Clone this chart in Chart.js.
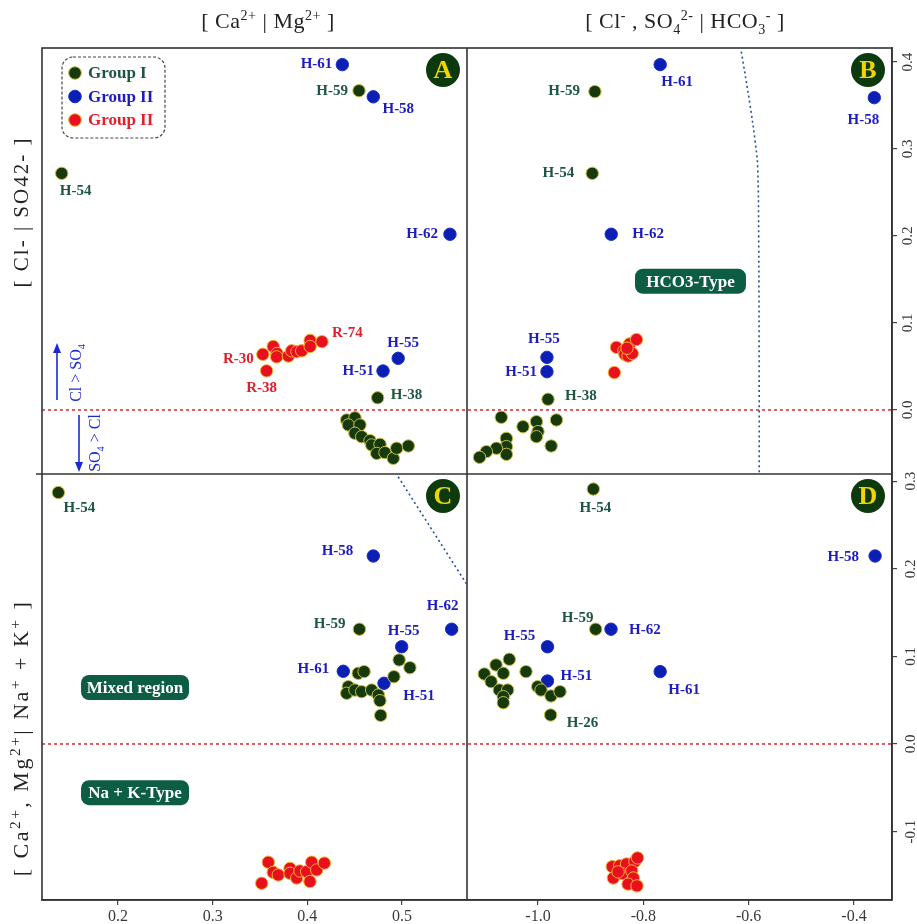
<!DOCTYPE html>
<html>
<head>
<meta charset="utf-8">
<script src="https://cdn.jsdelivr.net/npm/chart.js@4.4.1/dist/chart.umd.min.js"></script>
<style>
  html, body { margin: 0; padding: 0; background: #fff; }
  canvas { display: block; }
</style>
</head>
<body>
<canvas id="chart" width="917" height="924"></canvas>
<script>
// ---- tick labels ----
const caMgTicks = [0.2, 0.3, 0.4, 0.5];
const anionTicks = [-1.0, -0.8, -0.6, -0.4];
const clSo4Ticks = [0.0, 0.1, 0.2, 0.3, 0.4];
const cationTicks = [-0.1, 0.0, 0.1, 0.2, 0.3];

const groupNames = ['Group I', 'Group II', 'Group II'];

// ---- Panel A : [Ca | Mg] vs [Cl | SO4] ----
const groupI_A = [
  [0.1405, 0.272, 'H-54'], [0.4546, 0.367, 'H-59'], [0.4743, 0.014, 'H-38'],
  [0.4416, -0.0115], [0.4503, -0.0090], [0.4433, -0.0172], [0.4556, -0.0172],
  [0.4503, -0.0268], [0.4574, -0.0307], [0.4662, -0.0353], [0.4680, -0.0402],
  [0.4768, -0.0395], [0.4733, -0.0500], [0.4820, -0.0490], [0.4908, -0.0556],
  [0.4944, -0.0440], [0.5067, -0.0414]
];
const groupII_A = [
  [0.437, 0.397, 'H-61'], [0.4697, 0.360, 'H-58'], [0.5507, 0.202, 'H-62'],
  [0.496, 0.0594, 'H-55'], [0.480, 0.0448, 'H-51']
];
const groupIII_A = [
  [0.353, 0.064, 'R-30'], [0.364, 0.073], [0.368, 0.065], [0.3676, 0.061],
  [0.380, 0.062], [0.3835, 0.068], [0.389, 0.067], [0.394, 0.068],
  [0.403, 0.080], [0.403, 0.073], [0.4155, 0.0785, 'R-74'], [0.357, 0.045, 'R-38']
];

// ---- Panel B : [Cl, SO4 | HCO3] vs [Cl | SO4] ----
const groupI_B = [
  [-0.897, 0.272, 'H-54'], [-0.892, 0.366, 'H-59'], [-0.981, 0.0123, 'H-38'],
  [-1.0697, -0.0084], [-1.0285, -0.0192], [-1.003, -0.0134], [-0.965, -0.0115],
  [-1.000, -0.0249], [-1.003, -0.0307], [-0.975, -0.0414], [-1.060, -0.0326],
  [-1.060, -0.0421], [-1.060, -0.0510], [-1.079, -0.0440], [-1.098, -0.0479],
  [-1.111, -0.0544]
];
const groupII_B = [
  [-0.768, 0.397, 'H-61'], [-0.3615, 0.359, 'H-58'], [-0.861, 0.202, 'H-62'],
  [-0.983, 0.0605, 'H-55'], [-0.983, 0.044, 'H-51']
];
const groupIII_B = [
  [-0.851, 0.072], [-0.837, 0.068], [-0.835, 0.064], [-0.826, 0.076], [-0.813, 0.081],
  [-0.829, 0.062], [-0.821, 0.065], [-0.831, 0.071], [-0.855, 0.043]
];

// ---- Panel C : [Ca | Mg] vs [Ca, Mg | Na + K] ----
const groupI_C = [
  [0.137, 0.287, 'H-54'], [0.455, 0.131, 'H-59'],
  [0.497, 0.0959], [0.5084, 0.0871], [0.4915, 0.0768], [0.4538, 0.0807],
  [0.4600, 0.0826], [0.4433, 0.0654], [0.4416, 0.0579], [0.4503, 0.0616],
  [0.4574, 0.0597], [0.4680, 0.0616], [0.4750, 0.0559], [0.4767, 0.0494],
  [0.4775, 0.0327]
];
const groupII_C = [
  [0.4697, 0.2146, 'H-58'], [0.5525, 0.131, 'H-62'], [0.4997, 0.111, 'H-55'],
  [0.438, 0.083, 'H-61'], [0.481, 0.0693, 'H-51']
];
const groupIII_C = [
  [0.3518, -0.159], [0.3588, -0.135], [0.364, -0.1465], [0.3693, -0.1495],
  [0.3817, -0.142], [0.3817, -0.1476], [0.3888, -0.153], [0.3922, -0.145],
  [0.3993, -0.1457], [0.4028, -0.157], [0.4046, -0.135], [0.4099, -0.1438],
  [0.418, -0.136]
];

// ---- Panel D : [Cl, SO4 | HCO3] vs [Ca, Mg | Na + K] ----
const groupI_D = [
  [-0.895, 0.291, 'H-54'], [-0.8905, 0.131, 'H-59'], [-0.976, 0.0331, 'H-26'],
  [-1.0545, 0.0967], [-1.0797, 0.0902], [-1.0659, 0.0807], [-1.102, 0.0799],
  [-1.089, 0.0711], [-1.0735, 0.0616], [-1.0576, 0.0616], [-1.0659, 0.054],
  [-1.0659, 0.0471], [-1.0228, 0.0826], [-1.0006, 0.0654], [-0.9943, 0.0616],
  [-0.9753, 0.0548], [-0.9582, 0.0597]
];
const groupII_D = [
  [-0.360, 0.2146, 'H-58'], [-0.8614, 0.131, 'H-62'], [-0.982, 0.111, 'H-55'],
  [-0.768, 0.0826, 'H-61'], [-0.982, 0.0719, 'H-51']
];
const groupIII_D = [
  [-0.859, -0.140], [-0.845, -0.139], [-0.832, -0.137], [-0.816, -0.134],
  [-0.811, -0.130], [-0.857, -0.153], [-0.840, -0.148], [-0.822, -0.145],
  [-0.819, -0.153], [-0.829, -0.160], [-0.812, -0.162], [-0.848, -0.146]
];

// ---- boundary lines ----
const hco3Boundary = [
  [-0.614, 0.412], [-0.597, 0.349], [-0.588, 0.310], [-0.583, 0.280],
  [-0.581, 0.200], [-0.580, 0.000], [-0.580, -0.073]
];
const mixedBoundary = [[0.496, 0.305], [0.568, 0.183]];

// ---- styling ----
const SERIF = '"Liberation Serif", "DejaVu Serif", serif';
const groupStyle = [
  { fill: '#163a0b', edge: '#c4bd45', text: '#1e5640' },
  { fill: '#0b1fb4', edge: '#1b2fc4', text: '#1c1cc0' },
  { fill: '#e8101e', edge: '#f2b233', text: '#e2202c' }
];
// where each sample name sits next to its marker: [align, dx, dy]
const labelPlacement = {
  A: { 'H-61': ['right', -10, 0], 'H-59': ['right', -11, 0], 'H-58': ['center', 25, 12],
       'H-54': ['center', 14, 18], 'H-62': ['right', -12, 0], 'R-74': ['left', 10, -9],
       'H-55': ['center', 5, -15], 'H-51': ['right', -9, 0], 'R-30': ['right', -9, 5],
       'R-38': ['center', -5, 17], 'H-38': ['left', 13, -3] },
  B: { 'H-61': ['center', 17, 18], 'H-59': ['right', -15, 0], 'H-58': ['center', -11, 22],
       'H-54': ['right', -18, 0], 'H-62': ['left', 21, 0], 'H-55': ['center', -3, -18],
       'H-51': ['right', -10, 0], 'H-38': ['left', 17, -3] },
  C: { 'H-54': ['center', 21, 16], 'H-58': ['right', -20, -5], 'H-62': ['center', -9, -23],
       'H-59': ['right', -14, -5], 'H-55': ['center', 2, -16], 'H-61': ['right', -14, -2],
       'H-51': ['center', 35, 13] },
  D: { 'H-54': ['center', 2, 19], 'H-58': ['right', -16, 1], 'H-59': ['center', -18, -11],
       'H-62': ['left', 18, 1], 'H-55': ['center', -28, -11], 'H-61': ['center', 24, 18],
       'H-51': ['left', 13, -5], 'H-26': ['left', 16, 8] }
};

const toPts = arr => arr.map(([x, y, name]) => ({ x, y, name }));

const panels = [
  { key: 'A', xId: 'xCaMg', yId: 'yClSo4', groups: [groupI_A, groupII_A, groupIII_A] },
  { key: 'B', xId: 'xAnion', yId: 'yClSo4', groups: [groupI_B, groupII_B, groupIII_B] },
  { key: 'C', xId: 'xCaMg', yId: 'yCation', groups: [groupI_C, groupII_C, groupIII_C] },
  { key: 'D', xId: 'xAnion', yId: 'yCation', groups: [groupI_D, groupII_D, groupIII_D] }
];

const datasets = [];
panels.forEach(p => p.groups.forEach((g, gi) => datasets.push({
  type: 'scatter', label: groupNames[gi], panel: p.key, group: gi, data: toPts(g),
  xAxisID: p.xId, yAxisID: p.yId,
  backgroundColor: groupStyle[gi].fill, borderColor: groupStyle[gi].edge,
  borderWidth: 1, pointRadius: 6.2, pointHoverRadius: 6.2
})));
const boundaryStyle = { borderColor: '#23519c', borderWidth: 1.6, borderDash: [2, 3], pointRadius: 0, fill: false };
datasets.push(Object.assign({ type: 'line', label: 'HCO3 boundary', data: toPts(hco3Boundary),
  xAxisID: 'xAnion', yAxisID: 'yClSo4', tension: 0.35 }, boundaryStyle));
datasets.push(Object.assign({ type: 'line', label: 'mixed boundary', data: toPts(mixedBoundary),
  xAxisID: 'xCaMg', yAxisID: 'yCation', tension: 0 }, boundaryStyle));

// ---- axes: two x scales stacked side by side, two y scales stacked on the right ----
const fmt = v => Number(v).toFixed(1);
function xAxis(min, max, ticks) {
  return {
    type: 'linear', position: 'bottom', stack: 'bottomAxes', stackWeight: 1, min, max,
    afterBuildTicks: s => { s.ticks = ticks.map(value => ({ value })); },
    afterFit: s => { s.height = 24; },
    ticks: { callback: fmt, font: { family: SERIF, size: 16 }, color: '#3a3a3a', padding: 2,
             autoSkip: false, minRotation: 0, maxRotation: 0 },
    grid: { drawOnChartArea: false, drawTicks: true, tickLength: 5, color: '#444', lineWidth: 1.2 },
    border: { display: true, color: '#333', width: 1.6 }
  };
}
function yAxis(min, max, ticks) {
  return {
    type: 'linear', position: 'right', stack: 'rightAxes', stackWeight: 1, min, max,
    afterBuildTicks: s => { s.ticks = ticks.map(value => ({ value })); },
    afterFit: s => { s.width = 25; },
    ticks: { callback: fmt, font: { family: SERIF, size: 15 }, color: '#3a3a3a', padding: 2,
             autoSkip: false, minRotation: 90, maxRotation: 90, crossAlign: 'center' },
    grid: { drawOnChartArea: false, drawTicks: true, tickLength: 5, color: '#444', lineWidth: 1.2 },
    border: { display: true, color: '#333', width: 1.6 }
  };
}

// ---- rich text (super/subscripts) ----
function drawRich(ctx, parts, x, y, size, opts) {
  const o = Object.assign({ rotate: 0, weight: 'normal', color: '#222', small: 0.64, spacing: 0 }, opts || {});
  const small = size * o.small;
  const fontOf = m => `${o.weight} ${m ? small : size}px ${SERIF}`;
  ctx.save();
  const widths = parts.map(([t, m]) => {
    ctx.font = fontOf(m);
    return ctx.measureText(t).width + o.spacing * t.length;
  });
  const total = widths.reduce((a, b) => a + b, 0);
  ctx.translate(x, y);
  ctx.rotate(o.rotate);
  ctx.fillStyle = o.color;
  ctx.textAlign = 'left';
  ctx.textBaseline = 'alphabetic';
  let cx = -total / 2;
  const base = size * 0.33;
  parts.forEach(([t, m], i) => {
    ctx.font = fontOf(m);
    const dy = m === 'sup' ? -size * 0.38 : m === 'sub' ? size * 0.24 : 0;
    // characters placed one by one so the tracking is explicit
    let px = cx;
    for (const ch of t) {
      ctx.fillText(ch, px, base + dy);
      px += ctx.measureText(ch).width + o.spacing;
    }
    cx += widths[i];
  });
  ctx.restore();
}

function roundRectPath(ctx, x, y, w, h, r) {
  ctx.beginPath();
  ctx.moveTo(x + r, y);
  ctx.lineTo(x + w - r, y);
  ctx.arcTo(x + w, y, x + w, y + r, r);
  ctx.lineTo(x + w, y + h - r);
  ctx.arcTo(x + w, y + h, x + w - r, y + h, r);
  ctx.lineTo(x + r, y + h);
  ctx.arcTo(x, y + h, x, y + h - r, r);
  ctx.lineTo(x, y + r);
  ctx.arcTo(x, y, x + r, y, r);
  ctx.closePath();
}

function line(ctx, x1, y1, x2, y2) {
  ctx.beginPath(); ctx.moveTo(x1, y1); ctx.lineTo(x2, y2); ctx.stroke();
}

const decor = {
  id: 'decor',
  beforeDatasetsDraw(chart) {
    const { ctx, chartArea: ca, scales: s } = chart;
    ctx.save();
    // zero reference lines
    ctx.strokeStyle = '#e0262e';
    ctx.lineWidth = 1.5;
    ctx.setLineDash([3, 3]);
    [s.yClSo4, s.yCation].forEach(sc => {
      const y = sc.getPixelForValue(0);
      line(ctx, ca.left, y, ca.right, y);
    });
    ctx.setLineDash([]);
    // panel frame
    ctx.strokeStyle = '#333';
    ctx.lineWidth = 1.6;
    ctx.strokeRect(ca.left, ca.top, ca.width, ca.height);
    const midX = s.xCaMg.right, midY = s.yClSo4.bottom;
    line(ctx, midX, ca.top, midX, ca.bottom);
    line(ctx, ca.left - 6, midY, ca.right, midY);
    ctx.restore();
  },
  afterDatasetsDraw(chart) {
    const { ctx, chartArea: ca, scales: s } = chart;
    ctx.save();

    // sample names
    ctx.font = `bold 15px ${SERIF}`;
    ctx.textBaseline = 'middle';
    chart.data.datasets.forEach((ds, i) => {
      if (!ds.panel) return;
      const meta = chart.getDatasetMeta(i);
      ds.data.forEach((pt, j) => {
        if (!pt.name) return;
        const place = labelPlacement[ds.panel][pt.name];
        const el = meta.data[j];
        ctx.textAlign = place[0];
        ctx.fillStyle = groupStyle[ds.group].text;
        ctx.fillText(pt.name, el.x + place[1], el.y + place[2]);
      });
    });

    // panel badges
    const badges = [
      ['A', s.xCaMg, s.yClSo4], ['B', s.xAnion, s.yClSo4],
      ['C', s.xCaMg, s.yCation], ['D', s.xAnion, s.yCation]
    ];
    badges.forEach(([t, xs, ys]) => {
      const cx = xs.right - 24, cy = ys.top + 22;
      ctx.beginPath();
      ctx.arc(cx, cy, 17, 0, Math.PI * 2);
      ctx.fillStyle = '#0c3a0d';
      ctx.fill();
      ctx.fillStyle = '#f4d400';
      ctx.font = `bold 26px ${SERIF}`;
      ctx.textAlign = 'center';
      ctx.textBaseline = 'middle';
      ctx.fillText(t, cx, cy + 1);
    });

    // legend
    const lx = ca.left + 20, ly = ca.top + 9;
    ctx.strokeStyle = '#444';
    ctx.lineWidth = 1.2;
    ctx.setLineDash([3, 2]);
    roundRectPath(ctx, lx, ly, 103, 81, 11);
    ctx.stroke();
    ctx.setLineDash([]);
    groupNames.forEach((name, gi) => {
      const ry = ly + 16 + gi * 23.5;
      ctx.beginPath();
      ctx.arc(lx + 13, ry, 6.3, 0, Math.PI * 2);
      ctx.fillStyle = groupStyle[gi].fill;
      ctx.fill();
      ctx.strokeStyle = groupStyle[gi].edge;
      ctx.lineWidth = 1;
      ctx.stroke();
      ctx.font = `bold 17px ${SERIF}`;
      ctx.textAlign = 'left';
      ctx.textBaseline = 'middle';
      ctx.fillStyle = groupStyle[gi].text;
      ctx.fillText(name, lx + 26, ry + 1);
    });

    // region tags
    const tags = [
      ['HCO3-Type', s.xAnion, s.yClSo4, -0.7105, 0.148, 111],
      ['Mixed region', s.xCaMg, s.yCation, 0.218, 0.0645, 108],
      ['Na + K-Type', s.xCaMg, s.yCation, 0.218, -0.0556, 108]
    ];
    tags.forEach(([t, xs, ys, vx, vy, w]) => {
      const cx = xs.getPixelForValue(vx), cy = ys.getPixelForValue(vy);
      roundRectPath(ctx, cx - w / 2, cy - 12.5, w, 25, 8);
      ctx.fillStyle = '#0d5d44';
      ctx.fill();
      ctx.fillStyle = '#ffffff';
      ctx.font = `bold 17px ${SERIF}`;
      ctx.textAlign = 'center';
      ctx.textBaseline = 'middle';
      ctx.fillText(t, cx, cy + 1);
    });

    // Cl / SO4 direction arrows
    const zy = s.yClSo4.getPixelForValue(0);
    const blue = '#1a2bd0';
    ctx.strokeStyle = blue;
    ctx.fillStyle = blue;
    ctx.lineWidth = 1.6;
    const ax1 = ca.left + 15, ax2 = ca.left + 37;
    line(ctx, ax1, zy - 10, ax1, zy - 60);
    ctx.beginPath();
    ctx.moveTo(ax1, zy - 67); ctx.lineTo(ax1 - 4, zy - 57); ctx.lineTo(ax1 + 4, zy - 57); ctx.closePath();
    ctx.fill();
    line(ctx, ax2, zy + 5, ax2, zy + 55);
    ctx.beginPath();
    ctx.moveTo(ax2, zy + 62); ctx.lineTo(ax2 - 4, zy + 52); ctx.lineTo(ax2 + 4, zy + 52); ctx.closePath();
    ctx.fill();
    drawRich(ctx, [['Cl > SO', ''], ['4', 'sub']], ca.left + 34, zy - 37, 16,
      { rotate: -Math.PI / 2, color: blue });
    drawRich(ctx, [['SO', ''], ['4', 'sub'], [' > Cl', '']], ca.left + 53, zy + 33, 16,
      { rotate: -Math.PI / 2, color: blue });

    ctx.restore();
  },
  afterDraw(chart) {
    const { ctx } = chart;
    // axis titles
    drawRich(ctx, [['[ Ca', ''], ['2+', 'sup'], [' | Mg', ''], ['2+', 'sup'], [' ]', '']],
      268, 21, 22, { spacing: 0.5 });
    drawRich(ctx, [['[ Cl', ''], ['-', 'sup'], [' , SO', ''], ['4', 'sub'], ['2-', 'sup'],
      [' | HCO', ''], ['3', 'sub'], ['-', 'sup'], [' ]', '']], 685, 21, 22, { spacing: 0.5 });
    drawRich(ctx, [['[ Cl- | SO42- ]', '']], 21, 212, 21,
      { rotate: -Math.PI / 2, spacing: 2 });
    drawRich(ctx, [['[ Ca', ''], ['2+', 'sup'], [', Mg', ''], ['2+', 'sup'], ['| Na', ''],
      ['+', 'sup'], [' + K', ''], ['+', 'sup'], [' ]', '']], 21, 738, 22,
      { rotate: -Math.PI / 2, small: 0.7, spacing: 2.5 });
  }
};

new Chart(document.getElementById('chart'), {
  type: 'scatter',
  data: { datasets },
  options: {
    responsive: false,
    animation: false,
    events: [],
    devicePixelRatio: 1,
    layout: { padding: { left: 42, top: 48, right: 0, bottom: 0 } },
    plugins: { legend: { display: false }, tooltip: { enabled: false } },
    scales: {
      xCaMg: xAxis(0.1197, 0.5687, caMgTicks),
      xAnion: xAxis(-1.1348, -0.3279, anionTicks),
      yClSo4: yAxis(-0.0736, 0.4161, clSo4Ticks),
      yCation: yAxis(-0.1781, 0.3082, cationTicks)
    }
  },
  plugins: [decor]
});
</script>
</body>
</html>
